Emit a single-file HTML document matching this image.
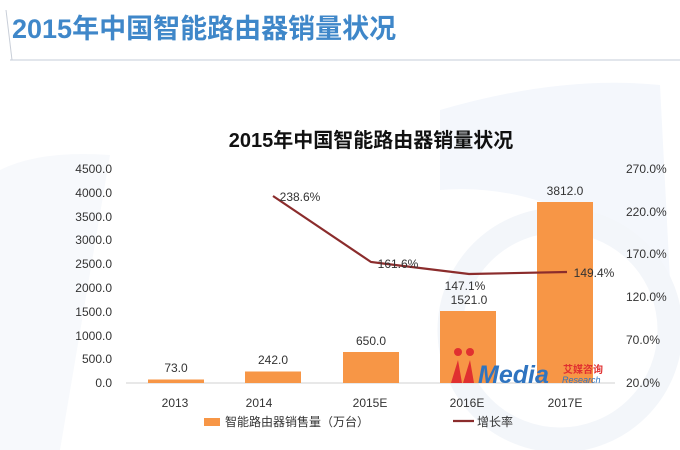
<!DOCTYPE html><html><head><meta charset="utf-8"><style>
body{margin:0;width:680px;height:450px;overflow:hidden;background:#fff;font-family:"Liberation Sans","Noto Sans CJK SC",sans-serif}
</style></head><body>
<svg width="680" height="450" xmlns="http://www.w3.org/2000/svg" style="position:absolute;left:0;top:0">
<path d="M440 110 Q560 75 660 85 L670 280 Q560 180 440 190Z" fill="#f4f7fc"/>
<path d="M0 170 Q40 150 110 155 L60 450 L0 450Z" fill="#f7f9fc"/>
<circle cx="560" cy="330" r="110" fill="none" stroke="#f3f6fa" stroke-width="25"/>
<line x1="10" y1="60" x2="680" y2="60" stroke="#d8dde5" stroke-width="1.5"/>
<line x1="6" y1="10" x2="12" y2="60" stroke="#c8ced8" stroke-width="1"/>
<text x="12" y="38" font-size="27" font-weight="bold" fill="#3f87c9">2015年中国智能路由器销量状况</text>
<text x="371" y="147" text-anchor="middle" font-size="20" font-weight="bold" fill="#111">2015年中国智能路由器销量状况</text>
<g font-size="12" fill="#333" text-anchor="end">
<text x="112" y="387">0.0</text><text x="112" y="363">500.0</text><text x="112" y="340">1000.0</text><text x="112" y="316">1500.0</text><text x="112" y="292">2000.0</text><text x="112" y="268">2500.0</text><text x="112" y="244">3000.0</text><text x="112" y="221">3500.0</text><text x="112" y="197">4000.0</text><text x="112" y="173">4500.0</text>
</g>
<g font-size="12" fill="#333">
<text x="626" y="387">20.0%</text><text x="626" y="344">70.0%</text><text x="626" y="301">120.0%</text><text x="626" y="258">170.0%</text><text x="626" y="216">220.0%</text><text x="626" y="173">270.0%</text>
</g>
<line x1="126" y1="383" x2="615" y2="383" stroke="#d0d0d0"/>
<g fill="#f79646">
<rect x="148" y="379.5" width="56" height="3.5"/>
<rect x="245" y="371.5" width="56" height="11.5"/>
<rect x="343" y="352" width="56" height="31"/>
<rect x="440" y="311" width="56" height="72"/>
<rect x="537" y="202" width="56" height="181"/>
</g>
<polyline points="273,196 371,262 469,274 567,272" fill="none" stroke="#8b2c2c" stroke-width="2.2"/>
<g font-size="12" fill="#333" text-anchor="middle">
<text x="176" y="372">73.0</text><text x="273" y="364">242.0</text><text x="371" y="345">650.0</text><text x="469" y="304">1521.0</text><text x="565" y="195">3812.0</text>
<text x="300" y="201">238.6%</text><text x="398" y="268">161.6%</text><text x="465" y="290">147.1%</text><text x="594" y="277">149.4%</text>
<text x="175" y="407">2013</text><text x="259" y="407">2014</text><text x="370" y="407">2015E</text><text x="467" y="407">2016E</text><text x="565" y="407">2017E</text>
</g>
<g>
<circle cx="458" cy="352" r="4" fill="#e03030"/><circle cx="470" cy="352" r="4" fill="#e03030"/>
<path d="M451 383 L458 360 L462 383Z M463 383 L470 360 L474 383Z" fill="#e03030"/>
<text x="478" y="383" font-size="25" font-weight="bold" fill="#2f74c0" font-style="italic">Media</text>
<text x="563" y="373" font-size="10" font-weight="bold" fill="#e03030">艾媒咨询</text>
<text x="562" y="383" font-size="9" font-style="italic" fill="#2f74c0">Research</text>
</g>
<rect x="204" y="418" width="16" height="8" fill="#f79646"/>
<text x="225" y="426" font-size="12" fill="#333">智能路由器销售量（万台）</text>
<line x1="453" y1="421" x2="474" y2="421" stroke="#8b2c2c" stroke-width="2.2"/>
<text x="477" y="426" font-size="12" fill="#333">增长率</text>
</svg>
</body></html>
